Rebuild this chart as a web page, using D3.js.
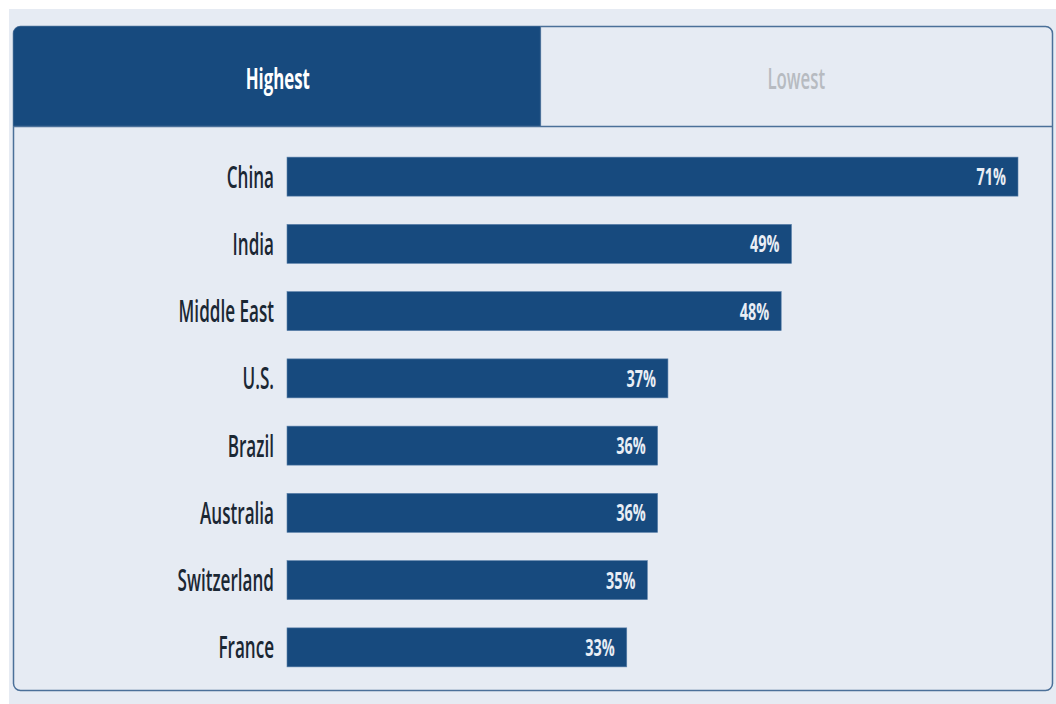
<!DOCTYPE html>
<html>
<head>
<meta charset="utf-8">
<script src="https://cdn.jsdelivr.net/npm/d3@7"></script>
<style>
  html, body { margin: 0; padding: 0; background: #ffffff; }
  svg { display: block; }
</style>
</head>
<body>
<script>
// ---- data ----
const categories = ["China", "India", "Middle East", "U.S.", "Brazil", "Australia", "Switzerland", "France"];
const values = [71, 49, 48, 37, 36, 36, 35, 33];
const tabLabels = ["Highest", "Lowest"];
const activeTab = 0;

// ---- layout ----
const W = 1056, H = 704;
const bg = "#e6ebf3";
const navy = "#174a7e";
const borderC = "#4b7099";
const sx = 0.58; // horizontal condensation of the typeface
const font = "'Open Sans', sans-serif";

const svg = d3.select("body").append("svg").attr("width", W).attr("height", H);

// page panel
svg.append("rect").attr("x", 9).attr("y", 9).attr("width", W - 9).attr("height", H - 9).attr("fill", bg);

// card
const card = { x: 13.5, y: 26.5, w: 1039, h: 664, r: 7 };
svg.append("rect")
  .attr("x", card.x).attr("y", card.y).attr("width", card.w).attr("height", card.h)
  .attr("rx", card.r).attr("fill", bg).attr("stroke", borderC).attr("stroke-width", 1.5);

// tabs
const tabBottom = 126;
const tabSplit = 540;
// active tab (left) with rounded top-left corner
const p = d3.path();
p.moveTo(card.x, tabBottom);
p.lineTo(card.x, card.y + card.r);
p.arcTo(card.x, card.y, card.x + card.r, card.y, card.r);
p.lineTo(tabSplit, card.y);
p.lineTo(tabSplit, tabBottom);
p.closePath();
svg.append("path").attr("d", p.toString()).attr("fill", navy);
svg.append("line").attr("x1", tabSplit + 0.5).attr("x2", tabSplit + 0.5)
  .attr("y1", card.y).attr("y2", tabBottom).attr("stroke", borderC).attr("stroke-width", 1.2);
svg.append("line").attr("x1", card.x).attr("x2", card.x + card.w)
  .attr("y1", tabBottom + 0.5).attr("y2", tabBottom + 0.5).attr("stroke", borderC).attr("stroke-width", 1.5);

const tabCenters = [(card.x + tabSplit) / 2 + 1, (tabSplit + card.x + card.w) / 2];
svg.selectAll("text.tab").data(tabLabels).join("text")
  .attr("class", "tab")
  .attr("transform", (d, i) => `translate(${tabCenters[i]},${89}) scale(${sx},1)`)
  .attr("text-anchor", "middle")
  .attr("font-family", font).attr("font-weight", (d, i) => i === activeTab ? 700 : 600)
  .attr("font-size", 29)
  .attr("fill", (d, i) => i === activeTab ? "#ffffff" : "#b7bbc1")
  .text(d => d);

// scales
const x = d3.scaleLinear().domain([0, 71]).range([287, 1018]);
const y = d3.scaleBand().domain(categories).range([143, 681]).paddingInner(0.42).paddingOuter(0.21);

const g = svg.append("g");
g.selectAll("rect.bar").data(values).join("rect")
  .attr("class", "bar")
  .attr("x", x(0))
  .attr("y", (d, i) => y(categories[i]))
  .attr("width", d => x(d) - x(0))
  .attr("height", y.bandwidth())
  .attr("fill", navy)
  .attr("stroke", "#5a80aa").attr("stroke-width", 0.6);

// category labels
g.selectAll("text.cat").data(categories).join("text")
  .attr("class", "cat")
  .attr("transform", d => `translate(274,${y(d) + y.bandwidth() / 2 + 11}) scale(0.57,1)`)
  .attr("text-anchor", "end")
  .attr("font-family", font).attr("font-weight", 600).attr("font-size", 30).attr("fill", "#1b2733")
  .text(d => d);

// value labels
g.selectAll("text.val").data(values).join("text")
  .attr("class", "val")
  .attr("transform", (d, i) => `translate(${x(d) - 12},${y(categories[i]) + y.bandwidth() / 2 + 8.5}) scale(${sx + 0.02},1)`)
  .attr("text-anchor", "end")
  .attr("font-family", font).attr("font-weight", 700).attr("font-size", 24).attr("fill", "#e9eef5")
  .text(d => d + "%");
</script>
</body>
</html>
